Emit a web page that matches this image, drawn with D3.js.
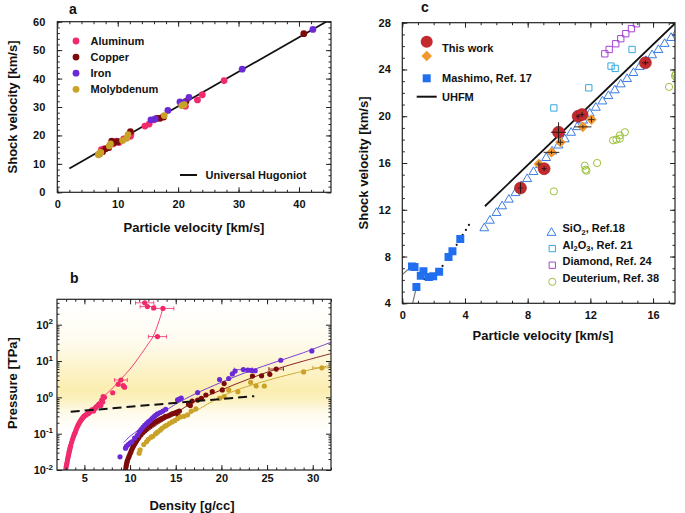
<!DOCTYPE html>
<html>
<head>
<meta charset="utf-8">
<script src="https://d3js.org/d3.v7.min.js"></script>
<style>
body{margin:0;background:#fff;}
svg text{font-family:"Liberation Sans",Arial,sans-serif;font-weight:bold;fill:#111;}
.tk text{font-size:11px;}
</style>
</head>
<body>
<svg id="fig" width="685" height="513"></svg>
<script>
// ---------- panel a : Us-up for metals ----------
const aluminumA = [[7,13.5],[7.3,15],[7.7,15.3],[8.5,15.7],[9.2,17],[9.8,18],[10.2,17.5],[11,18.8],[12.1,19.7],[12.2,20.5],[14.5,23.3],[15.2,24],[16,25.5],[17.5,26.5],[21,30.5],[21.2,30.3],[23.2,32.5],[24,34.3],[27.6,39.3]];
const copperA = [[7.5,14.3],[8,15.3],[8.5,15.8],[9,18],[9.5,17.5],[10,17.8],[12.1,21.3],[16.5,26],[17,26],[17.6,26.5],[21.3,32],[40.8,55.8]];
const ironA = [[15.5,25.5],[16.2,25.8],[18.3,28.8],[20.3,31.8],[21,31.5],[21.8,33.4],[30.6,43.3],[42.3,57.3]];
const molyA = [[6.8,13.2],[7,13.8],[7.2,14],[8.6,16.3],[8.8,17],[10.8,18.2],[11.5,19],[11.7,20.3],[17.7,27],[20.6,30.5],[21,30.8]];
const hugoniotA = [[2,8.4],[44.5,60]];
const metalNames = ["Aluminum","Copper","Iron","Molybdenum"];
const metalColors = ["#f02a6c","#7d0a0a","#6a2ad6","#c9a227"];
const aXTicks = [0,10,20,30,40];
const aYTicks = [0,10,20,30,40,50,60];

// ---------- panel b : pressure-density ----------
const aluminumB = [[2.95,0.010],[3.0,0.012],[3.05,0.014],[3.1,0.016],[3.15,0.019],[3.2,0.022],[3.25,0.025],[3.3,0.029],[3.35,0.033],[3.4,0.037],[3.45,0.042],[3.5,0.047],[3.6,0.058],[3.7,0.07],[3.8,0.083],[3.9,0.097],[4.0,0.11],[4.1,0.13],[4.2,0.15],[4.3,0.17],[4.4,0.19],[4.5,0.21],[4.6,0.23],[4.7,0.25],[4.8,0.27],[4.9,0.29],[5.0,0.31],[5.1,0.32],[5.2,0.33],[5.3,0.35],[5.4,0.36],[5.5,0.37],[5.6,0.4],[5.8,0.45],[6.0,0.42],[6.2,0.5],[6.3,0.55],[6.5,0.6],[6.6,0.65],[6.8,0.6],[6.9,0.84],[7.0,0.75],[7.05,1.05],[7.2,1.0],[8.1,1.34],[8.7,2.3],[9.25,2.1],[9.4,1.9],[9.0,3.0],[13.0,47],[13.6,280],[12.6,290],[11.9,315],[11.6,400]];
const aluminumBErr = [[9.0,3.0,0.7],[13.0,47,1.0],[13.6,280,1.2],[11.9,315,0.8],[11.6,400,1.0]];
const copperB = [[9.5,0.010],[9.55,0.012],[9.6,0.014],[9.65,0.016],[9.7,0.018],[9.8,0.021],[9.9,0.024],[10.0,0.028],[10.1,0.032],[10.2,0.037],[10.3,0.042],[10.4,0.047],[10.5,0.052],[10.6,0.057],[10.7,0.063],[10.8,0.069],[10.9,0.075],[11.0,0.082],[11.2,0.094],[11.4,0.107],[11.6,0.12],[11.8,0.135],[12.0,0.15],[12.2,0.165],[12.4,0.18],[12.6,0.195],[12.8,0.21],[13.0,0.225],[13.2,0.24],[13.4,0.255],[13.6,0.27],[13.8,0.29],[14.0,0.30],[14.2,0.31],[14.4,0.33],[14.6,0.35],[14.8,0.36],[15.0,0.38],[15.2,0.40],[15.4,0.42],[15.3,0.3],[16.4,0.65],[16.6,0.6],[16.8,0.79],[17.4,0.84],[17.8,0.94],[18.3,1.16],[19.0,1.43],[20.1,1.6],[20.3,2.4],[23.4,3.85],[24.4,3.9],[25.3,4.3],[26.0,6.0]];
const copperBErr = [[26.0,6.0,0.8]];
const ironB = [[8.9,0.023],[9.5,0.04],[9.6,0.045],[9.8,0.05],[10.0,0.055],[10.2,0.06],[10.5,0.075],[10.8,0.09],[11.0,0.11],[11.2,0.13],[11.4,0.15],[11.6,0.17],[11.8,0.19],[12.0,0.21],[12.2,0.23],[12.4,0.26],[12.6,0.29],[12.8,0.32],[13.0,0.35],[13.3,0.38],[13.6,0.42],[13.9,0.47],[15.2,0.85],[15.4,0.9],[15.6,0.95],[17.4,1.35],[19.8,3.1],[20.8,3.3],[21.2,4.4],[21.5,5.3],[22.4,5.8],[22.9,5.6],[23.3,5.5],[23.7,5.4],[26.5,10.5],[29.9,19]];
const ironBErr = [[22.4,5.8,1.0]];
const molyB = [[11.0,0.029],[11.1,0.036],[11.5,0.05],[11.8,0.06],[12.0,0.07],[12.3,0.08],[12.5,0.085],[12.8,0.1],[13.0,0.11],[13.3,0.125],[13.5,0.14],[13.8,0.16],[14.0,0.17],[14.3,0.19],[14.6,0.21],[14.9,0.23],[15.2,0.26],[15.5,0.29],[15.9,0.3],[16.3,0.33],[16.7,0.42],[17.2,0.48],[19.8,0.94],[20.3,1.05],[20.8,1.6],[21.8,1.43],[23.2,2.6],[23.8,2.05],[24.7,2.05],[29.0,5.0],[31.0,6.5]];
const molyBErr = [[31.0,6.5,1.0]];
const fitAl = [[3.0,0.011],[3.5,0.06],[4.2,0.17],[5.0,0.32],[5.8,0.5],[7.0,1.0],[8.0,1.7],[8.9,3.0],[10.0,6.0],[11.0,13],[12.0,30],[12.5,46],[13.2,133],[13.6,280]];
const fitFe = [[9.3,0.057],[10,0.085],[11,0.13],[12,0.19],[13,0.3],[14,0.45],[15,0.65],[17,1.2],[20,2.6],[23,5.2],[26,9.5],[29,17],[32,33]];
const fitCu = [[10.5,0.055],[11,0.075],[12,0.12],[13,0.18],[14,0.26],[15,0.37],[17,0.75],[20,1.6],[23,3.2],[26,6.0],[29,10],[32,16]];
const fitMo = [[12,0.06],[13,0.1],[15,0.22],[17,0.4],[20,1.05],[22,1.7],[25,2.9],[28,4.6],[32,7.6]];
const dashB = [[3.5,0.40],[23.6,1.08]];
const bXTicks = [5,10,15,20,25,30];
const bYTicks = [0.01,0.1,1,10,100];

// ---------- panel c : Us-up for transparent materials ----------
const thisWorkRed = [[7.54,13.86],[9.05,15.51],[9.97,18.63],[11.22,20.0],[11.47,20.14],[15.51,24.57]];
const thisWorkRedErr = [[0.15,0.45],[0.15,0.2],[0.48,0.85],[0.15,0.2],[0.15,0.2],[0.2,0.2]];
const thisWorkOrange = [[8.71,15.91],[9.52,16.91],[10.09,17.77],[11.52,19.09],[12.07,19.71]];
const thisWorkOrangeErr = [[0.15,0.2],[0.5,0.15],[0.2,0.25],[0.55,0.15],[0.2,0.25]];
const mashimo = [[0.62,7.15],[0.78,7.1],[0.9,5.4],[1.18,6.35],[1.35,6.75],[1.7,6.25],[1.97,6.32],[2.35,6.7],[2.95,7.95],[3.2,8.45],[3.7,9.5]];
const mashimoDots = [[1.4,6.06],[2.57,7.2],[3.47,9.0],[3.85,9.85],[4.06,10.28],[4.25,10.7]];
const mashimoGrey1 = [[0.0,6.45],[0.5,7.05]];
const mashimoGrey2 = [[0.66,4.0],[0.9,5.4]];
const sio2 = [[5.23,10.49],[5.59,11.14],[6.01,11.8],[6.37,12.37],[6.8,12.94],[7.22,13.5],[7.6,14.1],[7.97,14.7],[8.37,15.3],[8.78,15.9],[9.18,16.5],[9.56,17.06],[9.97,17.57],[10.37,18.1],[10.77,18.66],[11.16,19.14],[11.54,19.7],[11.96,20.29],[12.35,20.8],[12.77,21.34],[13.15,21.8],[13.56,22.29],[13.94,22.8],[14.34,23.26],[14.75,23.77],[15.15,24.29],[15.54,24.8],[15.94,25.29],[16.34,25.74],[16.74,26.26],[17.15,26.77],[17.5,27.2]];
const al2o3 = [[9.67,20.71],[11.9,22.43],[13.32,24.29],[13.58,24.09],[14.66,25.71]];
const diamond = [[12.92,25.34],[13.2,25.71],[13.62,26.2],[13.94,26.63],[14.26,27.06],[14.62,27.49],[14.94,27.91]];
const deuterium = [[9.67,13.57],[11.64,15.77],[11.69,15.43],[11.75,15.34],[12.43,16.0],[13.45,17.94],[13.66,18.0],[13.88,18.08],[13.88,18.36],[14.2,18.63],[17.02,22.51],[17.45,23.6],[17.5,23.3],[17.4,23.45]];
const uhfm = [[5.27,12.3],[17.4,27.93]];
const cXTicks = [0,4,8,12,16];
const cYTicks = [4,8,12,16,20,24,28];

const svg = d3.select("#fig");

// inward ticks on all four sides, labels bottom/left
function frame(g, x, y, o) {
  const [x0, x1] = x.range(), [y0, y1] = y.range();
  const mk = (axis, tv, size, tr, fmt, pad) => {
    const a = g.append("g").attr("class", "tk").attr("transform", tr)
      .call(axis.tickValues(tv).tickSize(size).tickPadding(pad || 3).tickFormat(fmt || ""));
    a.select(".domain").remove();
    a.attr("font-family", null).attr("font-size", null);
    a.selectAll("line").attr("stroke", "#222");
    return a;
  };
  mk(d3.axisBottom(x), o.xMajor, -5, `translate(0,${y0})`, o.xFmt, o.xPad);
  mk(d3.axisBottom(x), o.xMinor, -2.5, `translate(0,${y0})`);
  mk(d3.axisTop(x), o.xMajor, -5, `translate(0,${y1})`);
  mk(d3.axisTop(x), o.xMinor, -2.5, `translate(0,${y1})`);
  mk(d3.axisLeft(y), o.yMajor, -5, `translate(${x0},0)`, o.yFmt, o.yPad);
  mk(d3.axisLeft(y), o.yMinor, -2.5, `translate(${x0},0)`);
  mk(d3.axisRight(y), o.yMajor, -5, `translate(${x1},0)`);
  mk(d3.axisRight(y), o.yMinor, -2.5, `translate(${x1},0)`);
  g.append("rect").attr("x", x0).attr("y", y1).attr("width", x1 - x0).attr("height", y0 - y1)
    .attr("fill", "none").attr("stroke", "#222").attr("stroke-width", 1.2);
}

function titles(g, tx, ty, xt, yx, yy, yt, lx, ly, lt) {
  g.append("text").attr("x", tx).attr("y", ty).attr("dy", "0.35em").attr("text-anchor", "middle")
    .attr("font-size", 13).text(xt);
  g.append("text").attr("transform", `translate(${yx},${yy}) rotate(-90)`).attr("dy", "0.35em")
    .attr("text-anchor", "middle").attr("font-size", 13).text(yt);
  g.append("text").attr("x", lx).attr("y", ly).attr("font-size", 14).text(lt);
}

// ================= panel a =================
const ax = d3.scaleLinear().domain([0, 45.3]).range([57.3, 331]);
const ay = d3.scaleLinear().domain([0, 60]).range([192.3, 21.7]);
const ga = svg.append("g");
ga.append("line").attr("x1", ax(hugoniotA[0][0])).attr("y1", ay(hugoniotA[0][1]))
  .attr("x2", ax(hugoniotA[1][0])).attr("y2", ay(hugoniotA[1][1]))
  .attr("stroke", "#111").attr("stroke-width", 1.8);
[aluminumA, copperA, ironA, molyA].forEach((s, i) => {
  ga.selectAll(null).data(s).enter().append("circle")
    .attr("cx", d => ax(d[0])).attr("cy", d => ay(d[1])).attr("r", 3.4)
    .attr("fill", metalColors[i]);
});
frame(ga, ax, ay, {
  xMajor: aXTicks, xMinor: d3.range(0, 45, 2), xPad: 8,
  yMajor: aYTicks, yMinor: d3.range(0, 61, 2), yPad: 12, xFmt: d3.format("d"), yFmt: d3.format("d")
});
metalNames.forEach((n, i) => {
  ga.append("circle").attr("cx", 76).attr("cy", 41 + i * 16.1).attr("r", 3.4).attr("fill", metalColors[i]);
  ga.append("text").attr("x", 90.5).attr("y", 41 + i * 16.1).attr("dy", "0.35em").attr("font-size", 11).text(n);
});
ga.append("line").attr("x1", 180).attr("x2", 197).attr("y1", 175).attr("y2", 175).attr("stroke", "#111").attr("stroke-width", 2);
ga.append("text").attr("x", 205.5).attr("y", 175).attr("dy", "0.35em").attr("font-size", 11).text("Universal Hugoniot");
titles(ga, 194, 227, "Particle velocity [km/s]", 12, 107, "Shock velocity [km/s]", 69, 14, "a");

// ================= panel b =================
const bx = d3.scaleLinear().domain([2, 32]).range([57, 331]);
const by = d3.scaleLog().domain([0.01, 500]).range([470, 299.3]);
const gb = svg.append("g");
const defs = svg.append("defs");
const grad = defs.append("linearGradient").attr("id", "glow").attr("gradientUnits", "userSpaceOnUse")
  .attr("x1", 0).attr("x2", 0).attr("y1", by(400)).attr("y2", by(0.12));
[[0, 0], [0.3, 0.12], [0.55, 0.45], [0.68, 0.6], [0.75, 0.5], [0.86, 0.15], [1, 0]].forEach(s => {
  grad.append("stop").attr("offset", s[0]).attr("stop-color", "#f9e27c").attr("stop-opacity", s[1]);
});
gb.append("rect").attr("x", 57).attr("y", 299.3).attr("width", 274).attr("height", 170.7).attr("fill", "url(#glow)");
defs.append("clipPath").attr("id", "clipb").append("rect").attr("x", 57).attr("y", 299.3).attr("width", 274).attr("height", 170.7);
const pb = gb.append("g").attr("clip-path", "url(#clipb)");
const bline = d3.line().x(d => bx(d[0])).y(d => by(d[1])).curve(d3.curveCatmullRom);
[[fitAl, 0], [fitCu, 1], [fitFe, 2], [fitMo, 3]].forEach(([f, i]) => {
  pb.append("path").attr("d", bline(f)).attr("fill", "none").attr("stroke", metalColors[i]).attr("stroke-width", 0.9);
});
[[aluminumB, aluminumBErr, 0], [copperB, copperBErr, 1], [ironB, ironBErr, 2], [molyB, molyBErr, 3]].forEach(([s, e, i]) => {
  e.forEach(d => {
    const yy = by(d[1]), xa = bx(d[0] - d[2]), xb = bx(d[0] + d[2]);
    pb.append("path").attr("d", `M${xa},${yy}H${xb}M${xa},${yy - 2}V${yy + 2}M${xb},${yy - 2}V${yy + 2}`)
      .attr("stroke", metalColors[i]).attr("stroke-width", 0.8).attr("fill", "none");
  });
  pb.selectAll(null).data(s).enter().append("circle")
    .attr("cx", d => bx(d[0])).attr("cy", d => by(d[1])).attr("r", 2.6).attr("fill", metalColors[i]);
});
pb.append("line").attr("x1", bx(dashB[0][0])).attr("y1", by(dashB[0][1]))
  .attr("x2", bx(dashB[1][0])).attr("y2", by(dashB[1][1]))
  .attr("stroke", "#111").attr("stroke-width", 2).attr("stroke-dasharray", "9,5");
const bMinor = [];
bYTicks.forEach(t => { for (let k = 2; k <= 9; k++) if (t * k < 500) bMinor.push(t * k); });
frame(gb, bx, by, {
  xMajor: bXTicks, xMinor: d3.range(3, 33, 1), xPad: 4, xFmt: d3.format("d"),
  yMajor: bYTicks, yMinor: bMinor
});
bYTicks.forEach(t => {
  const e = Math.round(Math.log10(t));
  const tx = gb.append("text").attr("x", 53).attr("y", by(t)).attr("dy", "0.38em")
    .attr("text-anchor", "end").attr("font-size", 11).text("10");
  tx.append("tspan").attr("dy", "-0.55em").attr("font-size", 8).text(e);
});
titles(gb, 192, 505, "Density [g/cc]", 12, 383, "Pressure [TPa]", 70, 283, "b");

// ================= panel c =================
const cx = d3.scaleLinear().domain([0, 17.4]).range([402.3, 675]);
const cy = d3.scaleLinear().domain([4, 28]).range([303.3, 22.7]);
const gc = svg.append("g");
defs.append("clipPath").attr("id", "clipc").append("rect").attr("x", 402.3).attr("y", 22.7).attr("width", 272.7).attr("height", 280.6);
const pc = gc.append("g").attr("clip-path", "url(#clipc)");
const cline = d3.line().x(d => cx(d[0])).y(d => cy(d[1]));
pc.append("path").attr("d", cline(mashimoGrey1)).attr("stroke", "#777").attr("stroke-width", 1.2).attr("fill", "none");
pc.append("path").attr("d", cline(mashimoGrey2)).attr("stroke", "#777").attr("stroke-width", 1.2).attr("fill", "none");
pc.selectAll(null).data(mashimoDots).enter().append("circle")
  .attr("cx", d => cx(d[0])).attr("cy", d => cy(d[1])).attr("r", 1.1).attr("fill", "#111");
pc.append("path").attr("d", cline(uhfm)).attr("stroke", "#111").attr("stroke-width", 1.8).attr("fill", "none");
const sym = (type, size) => d3.symbol().type(type).size(size)();
pc.selectAll(null).data(sio2).enter().append("path").attr("d", sym(d3.symbolTriangle, 34))
  .attr("transform", d => `translate(${cx(d[0])},${cy(d[1]) + 0.8})`)
  .attr("fill", "none").attr("stroke", "#3b7de0").attr("stroke-width", 1);
pc.selectAll(null).data(al2o3).enter().append("path").attr("d", sym(d3.symbolSquare, 40))
  .attr("transform", d => `translate(${cx(d[0])},${cy(d[1])})`)
  .attr("fill", "none").attr("stroke", "#35a8e0").attr("stroke-width", 1);
pc.selectAll(null).data(diamond).enter().append("path").attr("d", sym(d3.symbolSquare, 40))
  .attr("transform", d => `translate(${cx(d[0])},${cy(d[1])})`)
  .attr("fill", "none").attr("stroke", "#a645d2").attr("stroke-width", 1);
pc.selectAll(null).data(deuterium).enter().append("circle")
  .attr("cx", d => cx(d[0])).attr("cy", d => cy(d[1])).attr("r", 3.6)
  .attr("fill", "none").attr("stroke", "#9cc23a").attr("stroke-width", 1);
pc.selectAll(null).data(mashimo).enter().append("path").attr("d", sym(d3.symbolSquare, 64))
  .attr("transform", d => `translate(${cx(d[0])},${cy(d[1])})`).attr("fill", "#1f6ff0");
pc.selectAll(null).data(thisWorkOrange).enter().append("path").attr("d", sym(d3.symbolSquare, 56))
  .attr("transform", d => `translate(${cx(d[0])},${cy(d[1])}) rotate(45)`).attr("fill", "#f2962e");
pc.selectAll(null).data(thisWorkRed).enter().append("circle")
  .attr("cx", d => cx(d[0])).attr("cy", d => cy(d[1])).attr("r", 6)
  .attr("fill", "#c32a2e").attr("stroke", "#9a1c20").attr("stroke-width", 0.6);
function crosses(pts, errs, col) {
  pts.forEach((d, i) => {
    const [ex, ey] = errs[i];
    pc.append("path")
      .attr("d", `M${cx(d[0] - ex)},${cy(d[1])}H${cx(d[0] + ex)}M${cx(d[0])},${cy(d[1] - ey)}V${cy(d[1] + ey)}`)
      .attr("stroke", col).attr("stroke-width", 1).attr("fill", "none");
  });
}
crosses(thisWorkOrange, thisWorkOrangeErr, "#3a2a20");
crosses(thisWorkRed, thisWorkRedErr, "#2a1515");
frame(gc, cx, cy, {
  xMajor: cXTicks, xMinor: d3.range(0, 17.4, 1), xPad: 8, xFmt: d3.format("d"),
  yMajor: cYTicks, yMinor: d3.range(4, 28.1, 1), yPad: 11.5, yFmt: d3.format("d")
});
// legend top-left
gc.append("circle").attr("cx", 426.7).attr("cy", 41.7).attr("r", 6).attr("fill", "#c32a2e");
gc.append("path").attr("d", sym(d3.symbolSquare, 56)).attr("transform", "translate(426.7,56) rotate(45)").attr("fill", "#f2962e");
gc.append("text").attr("x", 442).attr("y", 48).attr("dy", "0.35em").attr("font-size", 11).text("This work");
gc.append("path").attr("d", sym(d3.symbolSquare, 64)).attr("transform", "translate(426.7,78.3)").attr("fill", "#1f6ff0");
gc.append("text").attr("x", 442).attr("y", 78.3).attr("dy", "0.35em").attr("font-size", 11).text("Mashimo, Ref. 17");
gc.append("line").attr("x1", 416.7).attr("x2", 436.7).attr("y1", 96.7).attr("y2", 96.7).attr("stroke", "#111").attr("stroke-width", 2);
gc.append("text").attr("x", 442).attr("y", 96.7).attr("dy", "0.35em").attr("font-size", 11).text("UHFM");
// legend bottom-right
const legC = [
  ["tri", "#3b7de0", ["SiO", "2", ", Ref.18"]],
  ["sq", "#35a8e0", ["Al", "2", "O", "3", ", Ref. 21"]],
  ["sq", "#a645d2", ["Diamond, Ref. 24"]],
  ["ci", "#9cc23a", ["Deuterium, Ref. 38"]]
];
legC.forEach((l, i) => {
  const yy = 232 + i * 16.6;
  if (l[0] === "tri") gc.append("path").attr("d", sym(d3.symbolTriangle, 34)).attr("transform", `translate(551.5,${yy + 0.8})`).attr("fill", "none").attr("stroke", l[1]);
  if (l[0] === "sq") gc.append("path").attr("d", sym(d3.symbolSquare, 40)).attr("transform", `translate(552.3,${yy})`).attr("fill", "none").attr("stroke", l[1]);
  if (l[0] === "ci") gc.append("circle").attr("cx", 552.3).attr("cy", yy).attr("r", 3.6).attr("fill", "none").attr("stroke", l[1]);
  const t = gc.append("text").attr("x", 562.5).attr("y", yy).attr("dy", "0.35em").attr("font-size", 11);
  l[2].forEach((s, k) => {
    const sub = /^\d$/.test(s);
    t.append("tspan").attr("font-size", sub ? 7.5 : 11).attr("dy", sub ? 2.5 : (k > 0 ? -2.5 : 0)).text(s);
  });
});
titles(gc, 543, 335, "Particle velocity [km/s]", 363.3, 163, "Shock velocity [km/s]", 421, 12, "c");
</script>
</body>
</html>
